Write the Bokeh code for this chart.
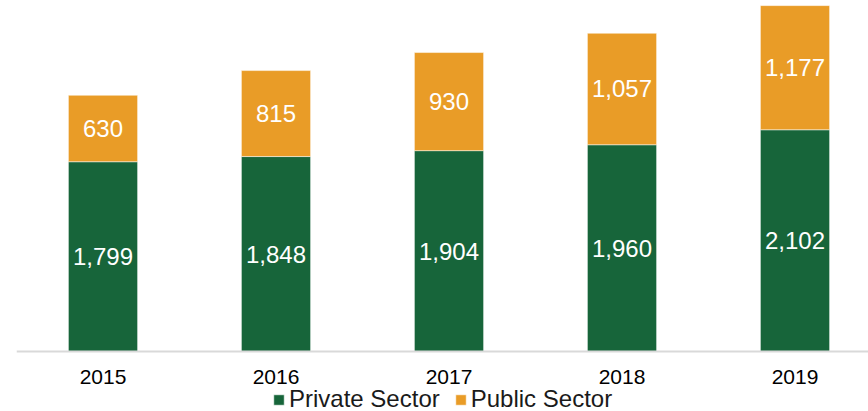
from bokeh.plotting import figure
from bokeh.models import ColumnDataSource, Legend, LegendItem, FixedTicker, Range1d
from bokeh.embed import file_html
from bokeh.resources import INLINE
from bokeh.core.properties import value

years = ["2015", "2016", "2017", "2018", "2019"]
private = [1799, 1848, 1904, 1960, 2102]
public = [630, 815, 930, 1057, 1177]

GREEN = "#17653A"
ORANGE = "#E99C27"
FONT = "Liberation Sans"

xs = list(range(len(years)))
tops = [a + b for a, b in zip(private, public)]
src = ColumnDataSource(dict(
    x=xs, priv=private, pub=public, top=tops,
    priv_mid=[p / 2 for p in private],
    pub_mid=[p + q / 2 for p, q in zip(private, public)],
    priv_lbl=[f"{v:,}" for v in private],
    pub_lbl=[f"{v:,}" for v in public],
))

Y_TOP = 3280
Y_BOTTOM = -Y_TOP * 60 / 346

p = figure(frame_width=852, frame_height=406, output_backend="svg", toolbar_location=None,
           x_range=Range1d(-0.5, -0.5 + 852 / 173), y_range=Range1d(Y_BOTTOM, Y_TOP),
           min_border_left=16, min_border_right=0, min_border_top=5, min_border_bottom=0)
p.outline_line_color = None
p.xgrid.visible = False
p.ygrid.visible = False
p.yaxis.visible = False

r1 = p.vbar(x="x", bottom=0, top="priv", width=0.40, source=src,
            fill_color=GREEN, line_color="white", line_width=0.5)
r2 = p.vbar(x="x", bottom="priv", top="top", width=0.40, source=src,
            fill_color=ORANGE, line_color="white", line_width=0.5)

p.text(x="x", y="priv_mid", text="priv_lbl", source=src, text_color="white",
       text_font=value(FONT), text_font_size="24px", text_align="center",
       text_baseline="middle")
p.text(x="x", y="pub_mid", text="pub_lbl", source=src, text_color="white",
       text_font=value(FONT), text_font_size="24px", text_align="center",
       text_baseline="middle")

ax = p.xaxis[0]
ax.fixed_location = 0
ax.ticker = FixedTicker(ticks=xs)
ax.major_label_overrides = {i: y for i, y in zip(xs, years)}
ax.axis_line_color = "#D9D9D9"
ax.axis_line_width = 2
ax.major_tick_line_color = None
ax.minor_tick_line_color = None
ax.major_label_text_font = FONT
ax.major_label_text_font_size = "21px"
ax.major_label_text_color = "#000000"
ax.major_label_standoff = 12

legend = Legend(items=[LegendItem(label="Private Sector", renderers=[r1]),
                       LegendItem(label="Public Sector", renderers=[r2])],
                orientation="horizontal", location=(256, -2),
                label_text_font=FONT, label_text_font_size="24px",
                label_text_color="#1A1A1A", label_height=20,
                glyph_width=13, glyph_height=13, label_standoff=4,
                spacing=14, padding=0, margin=0, border_line_color=None,
                background_fill_alpha=0)
p.add_layout(legend, "center")

open("out.html", "w").write(file_html(p, INLINE))
